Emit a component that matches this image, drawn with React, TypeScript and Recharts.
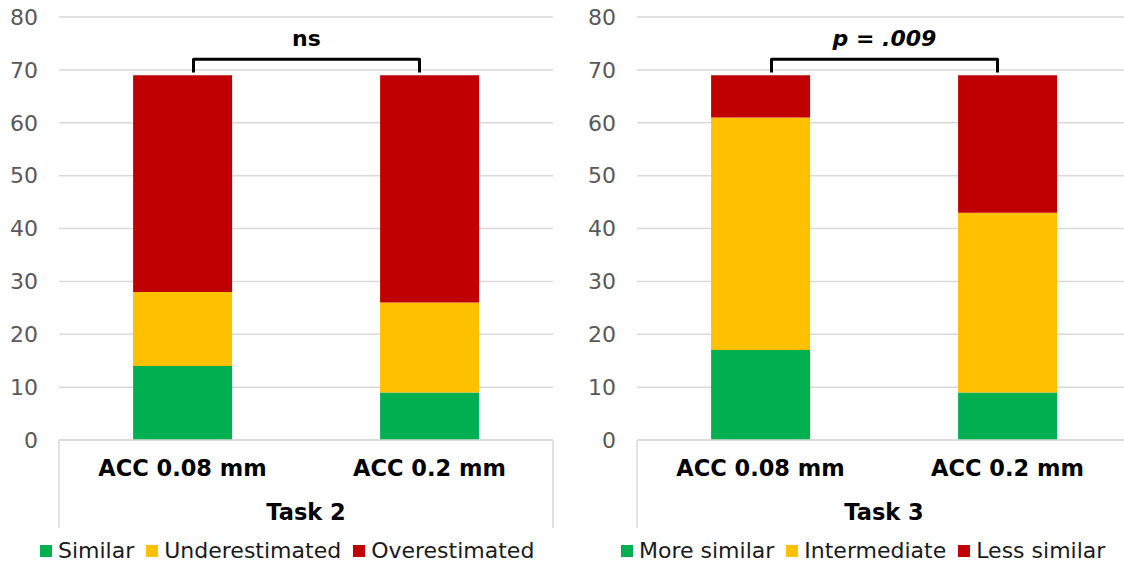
import React from 'react';
import { BarChart, Bar, XAxis, YAxis, CartesianGrid, Legend, usePlotArea } from 'recharts';

const categories = ['ACC 0.08 mm', 'ACC 0.2 mm'];
const yTicks = [0, 10, 20, 30, 40, 50, 60, 70, 80];

// Task 2
const task2Similar = [14, 9];
const task2Underestimated = [14, 17];
const task2Overestimated = [41, 43];

// Task 3
const task3MoreSimilar = [17, 9];
const task3Intermediate = [44, 34];
const task3LessSimilar = [8, 26];

const task2Keys = ['Similar', 'Underestimated', 'Overestimated'];
const task3Keys = ['More similar', 'Intermediate', 'Less similar'];

const GREEN = '#00B050';
const YELLOW = '#FFC000';
const RED = '#C00000';
const GRID = '#D9D9D9';
const FONT = '"DejaVu Sans", Verdana, sans-serif';
const Y_MAX = 80;

const task2Data = categories.map((name, i) => ({
  name,
  Similar: task2Similar[i],
  Underestimated: task2Underestimated[i],
  Overestimated: task2Overestimated[i],
}));

const task3Data = categories.map((name, i) => ({
  name,
  'More similar': task3MoreSimilar[i],
  Intermediate: task3Intermediate[i],
  'Less similar': task3LessSimilar[i],
}));

const CategoryTick = (props: any) => {
  const { x, y, payload } = props;
  return (
    <text x={x} y={y} dy={36} textAnchor="middle" fontWeight="bold" fontSize={22.5} fill="#000" fontFamily={FONT}>
      {payload.value}
    </text>
  );
};

const AxisBox = () => {
  const p = usePlotArea();
  if (!p) return null;
  const bottom = p.y + p.height;
  return (
    <g>
      <line x1={p.x} x2={p.x} y1={bottom} y2={bottom + 88} stroke={GRID} strokeWidth={1.5} />
      <line x1={p.x + p.width} x2={p.x + p.width} y1={bottom} y2={bottom + 88} stroke={GRID} strokeWidth={1.5} />
    </g>
  );
};

const Bracket = ({ text, italic }: { text: string; italic?: boolean }) => {
  const p = usePlotArea();
  if (!p) return null;
  const n = categories.length;
  const cx = (i: number) => p.x + (p.width * (i + 0.5)) / n;
  const yOf = (v: number) => p.y + p.height * (1 - v / Y_MAX);
  const x1 = cx(0) + 11;
  const x2 = cx(1) - 10;
  const yTop = yOf(72);
  const yBot = yOf(69.5);
  return (
    <g>
      <path
        d={`M${x1},${yBot} L${x1},${yTop} L${x2},${yTop} L${x2},${yBot}`}
        fill="none"
        stroke="#000"
        strokeWidth={3}
        strokeLinejoin="round"
      />
      <text
        x={(x1 + x2) / 2}
        y={yOf(74.6)}
        textAnchor="middle"
        fontWeight="bold"
        fontStyle={italic ? 'italic' : 'normal'}
        fontSize={22}
        fill="#000"
        fontFamily={FONT}
      >
        {text}
      </text>
    </g>
  );
};

const makeLegendContent = (keys: string[]) => (props: any) => {
  const items = [...(props.payload || [])].sort(
    (a: any, b: any) => keys.indexOf(a.value) - keys.indexOf(b.value)
  );
  return (
    <div style={{ display: 'inline-flex', whiteSpace: 'nowrap', fontFamily: FONT, fontSize: 22, color: '#1a1a1a', lineHeight: '26px' }}>
      {items.map((it: any, i: number) => (
        <span key={it.value} style={{ display: 'inline-flex', alignItems: 'center', marginRight: i < items.length - 1 ? 12 : 0 }}>
          <span style={{ display: 'inline-block', width: 12, height: 12, background: it.color, marginRight: 6 }} />
          <span>{it.value}</span>
        </span>
      ))}
    </div>
  );
};

const Panel = ({
  data,
  keys,
  colors,
  task,
  bracketText,
  italic,
  legendLeft,
}: {
  data: any[];
  keys: string[];
  colors: string[];
  task: string;
  bracketText: string;
  italic?: boolean;
  legendLeft: number;
}) => (
  <BarChart
    width={562}
    height={564}
    data={data}
    margin={{ top: 17, right: 9, left: 0, bottom: 34 }}
    barCategoryGap="30%"
  >
    <CartesianGrid vertical={false} stroke={GRID} strokeWidth={1.5} />
    <YAxis
      domain={[0, Y_MAX]}
      ticks={yTicks}
      width={59}
      axisLine={false}
      tickLine={false}
      tickSize={0}
      tickMargin={21}
      tick={{ fill: '#595959', fontSize: 22, fontFamily: FONT }}
      interval={0}
    />
    <XAxis
      dataKey="name"
      height={90}
      axisLine={{ stroke: GRID, strokeWidth: 1.5 }}
      tickLine={false}
      tickSize={0}
      tickMargin={0}
      tick={<CategoryTick />}
      interval={0}
      label={{
        value: task,
        position: 'insideBottom',
        offset: 10,
        fontWeight: 'bold',
        fontSize: 22.5,
        fill: '#000',
        fontFamily: FONT,
      }}
    />
    {keys.map((k, i) => (
      <Bar key={k} dataKey={k} stackId="s" fill={colors[i]} isAnimationActive={false} />
    ))}
    <AxisBox />
    <Bracket text={bracketText} italic={italic} />
    <Legend
      layout="horizontal"
      verticalAlign="middle"
      align="center"
      content={makeLegendContent(keys)}
      wrapperStyle={{ top: 538, left: legendLeft }}
    />
  </BarChart>
);

export default function App() {
  return (
    <div
      style={{
        position: 'absolute',
        left: 0,
        top: 0,
        width: 1124,
        height: 564,
        overflow: 'hidden',
        background: '#fff',
        fontFamily: FONT,
      }}
    >
      <div style={{ position: 'absolute', left: 0, top: 0 }}>
        <Panel
          data={task2Data}
          keys={task2Keys}
          colors={[GREEN, YELLOW, RED]}
          task="Task 2"
          bracketText="ns"
          legendLeft={40}
        />
      </div>
      <div style={{ position: 'absolute', left: 578, top: 0 }}>
        <Panel
          data={task3Data}
          keys={task3Keys}
          colors={[GREEN, YELLOW, RED]}
          task="Task 3"
          bracketText="p = .009"
          italic
          legendLeft={43}
        />
      </div>
    </div>
  );
}
